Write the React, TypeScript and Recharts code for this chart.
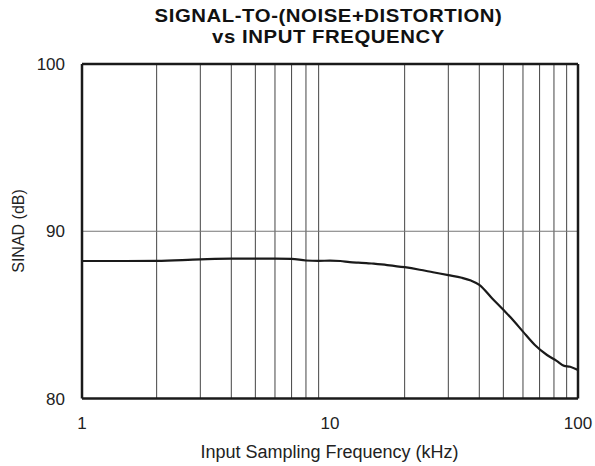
import { LineChart, Line, XAxis, YAxis, ReferenceLine } from 'recharts';

// SINAD vs input sampling frequency
const freqKHz = [1, 1.5, 2, 3, 4, 5, 6, 7, 8, 9, 10, 11, 12, 13, 14, 15, 17, 20, 23, 26, 30, 34, 37, 40, 45, 50, 55, 60, 67, 75, 82, 88, 93, 100];
const sinadDb = [88.22, 88.22, 88.23, 88.32, 88.36, 88.36, 88.36, 88.35, 88.25, 88.23, 88.24, 88.22, 88.15, 88.12, 88.1, 88.06, 87.98, 87.85, 87.7, 87.55, 87.38, 87.22, 87.05, 86.8, 86.0, 85.3, 84.65, 84.0, 83.2, 82.6, 82.25, 81.95, 81.9, 81.7];

const xTicks = [1, 10, 100];
const yTicks = [80, 90, 100];
const xMinorGrid = [2, 3, 4, 5, 6, 7, 8, 9, 20, 30, 40, 50, 60, 70, 80, 90];
const yGrid = [90];
const frameTop = 100;
const frameRight = 100;
const titleLines = ['SIGNAL-TO-(NOISE+DISTORTION)', 'vs INPUT FREQUENCY'];

const data = freqKHz.map((f, i) => ({ f, sinad: sinadDb[i] }));

const font = '"Liberation Sans", Arial, sans-serif';
const tickStyle = { fill: '#222', fontSize: 17, fontFamily: font };
const frame = { stroke: '#1a1a1a', strokeWidth: 2.5 };

export default function App() {
  return (
    <div style={{ position: 'absolute', left: 0, top: 0, width: 595, height: 466, background: '#fff', fontFamily: font }}>
      {titleLines.map((t, i) => (
        <div
          key={t}
          style={{
            position: 'absolute', left: 0, width: 657, top: 6 + i * 21, height: 21, textAlign: 'center',
            fontWeight: 'bold', fontSize: 18, lineHeight: '21px', letterSpacing: 0.5, color: '#111', whiteSpace: 'nowrap',
            transform: 'scaleX(1.13)', transformOrigin: '328.5px 50%',
          }}
        >
          {t}
        </div>
      ))}
      <div style={{ position: 'absolute', left: 0, width: 659, top: 442, textAlign: 'center', fontSize: 18, color: '#222', whiteSpace: 'nowrap' }}>
        Input Sampling Frequency (kHz)
      </div>
      <div
        style={{
          position: 'absolute', left: 19, top: 231, fontSize: 16, color: '#222', whiteSpace: 'nowrap',
          transform: 'translate(-50%, -50%) rotate(-90deg)',
        }}
      >
        SINAD (dB)
      </div>
      <LineChart width={595} height={466} data={data} margin={{ top: 64, right: 17, bottom: 37.5, left: 22 }}>
        <XAxis
          dataKey="f"
          type="number"
          scale="log"
          domain={[1, 100]}
          ticks={xTicks}
          allowDataOverflow
          tickLine={false}
          tickMargin={12}
          height={30}
          axisLine={frame}
          tick={tickStyle}
        />
        <YAxis
          type="number"
          domain={[80, 100]}
          ticks={yTicks}
          tickLine={false}
          tickMargin={11}
          width={60}
          axisLine={frame}
          tick={tickStyle}
        />
        {xMinorGrid.map((v) => (
          <ReferenceLine key={v} x={v} stroke="#444" strokeWidth={1} />
        ))}
        {yGrid.map((v) => (
          <ReferenceLine key={v} y={v} stroke="#777" strokeWidth={1} />
        ))}
        <ReferenceLine y={frameTop} {...frame} />
        <ReferenceLine x={frameRight} {...frame} />
        <Line
          type="monotone"
          dataKey="sinad"
          stroke="#1a1a1a"
          strokeWidth={2.2}
          dot={false}
          isAnimationActive={false}
        />
      </LineChart>
    </div>
  );
}
